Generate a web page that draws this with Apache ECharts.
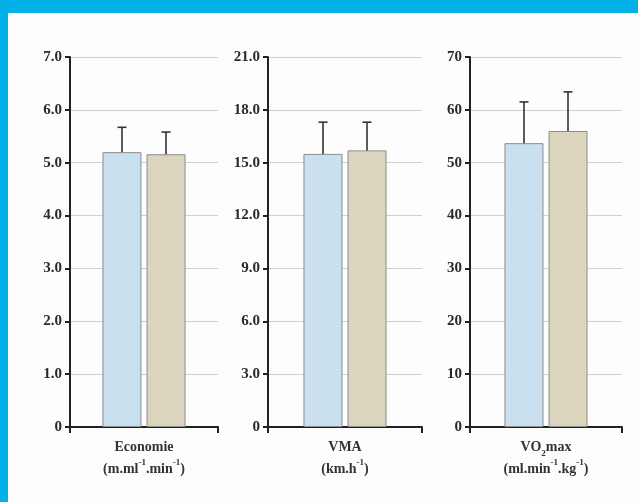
<!DOCTYPE html>
<html>
<head>
<meta charset="utf-8">
<script src="https://cdn.jsdelivr.net/npm/echarts@6/dist/echarts.min.js"></script>
<style>
html,body{margin:0;padding:0;background:#00b0e6;width:638px;height:502px;overflow:hidden;}
#c{position:absolute;left:8px;top:13px;width:630px;height:489px;background:#fdfdfd;}
</style>
</head>
<body>
<div id="c"></div>
<script>
// ---- data ----
var categories = ['Economie', 'VMA', 'VO2max'];
var unitLabels = ['(m.ml-1.min-1)', '(km.h-1)', '(ml.min-1.kg-1)'];
var group1Means = [5.2, 15.5, 53.7];
var group1SD = [0.47, 1.8, 7.8];
var group2Means = [5.16, 15.7, 56.0];
var group2SD = [0.42, 1.6, 7.4];
var axisMax = [7, 21, 70];
var axisStep = [1, 3, 10];
var axisDecimals = [1, 1, 0];

// ---- layout/style ----
var gridLeft = [62, 260, 462];
var gridWidth = [148, 154, 152];
var gridTop = 44, gridHeight = 370;
var FONT = '"Liberation Serif", "DejaVu Serif", serif';
var colBlue = '#c8e0ef', colTan = '#dbd5be', colBorder = '#8c8c8c';
var BAR_W = 39, BAR_OFF = 22;

var labelRich = {
  a: {fontFamily: FONT, fontSize: 14, fontWeight: 'bold', color: '#333', lineHeight: 22},
  sup: {fontFamily: FONT, fontSize: 9, fontWeight: 'bold', color: '#333', verticalAlign: 'top', lineHeight: 16},
  sub: {fontFamily: FONT, fontSize: 9, fontWeight: 'bold', color: '#333', verticalAlign: 'bottom', lineHeight: 14}
};
function richLabel(name, unit) {
  var first = name === 'VO2max' ? '{a|VO}{sub|2}{a|max}' : '{a|' + name + '}';
  var u = unit.replace(/-1/g, '}{sup|-1}{a|');
  return first + '\n{a|' + u + '}';
}

var grids = [], xAxes = [], yAxes = [], series = [];
for (var i = 0; i < 3; i++) {
  grids.push({left: gridLeft[i], width: gridWidth[i], top: gridTop, height: gridHeight});
  xAxes.push({
    type: 'category', gridIndex: i, data: [categories[i]],
    axisLine: {lineStyle: {color: '#222', width: 2}},
    axisTick: {show: true, length: 6, lineStyle: {color: '#222', width: 2}},
    axisLabel: {
      margin: 9, interval: 0,
      formatter: (function (k) { return function () { return richLabel(categories[k], unitLabels[k]); }; })(i),
      rich: labelRich
    }
  });
  yAxes.push({
    type: 'value', gridIndex: i, min: 0, max: axisMax[i], interval: axisStep[i],
    axisLine: {show: true, lineStyle: {color: '#222', width: 2}},
    axisTick: {show: true, length: 5, lineStyle: {color: '#222', width: 2}},
    splitLine: {show: true, lineStyle: {color: '#cfcfcf', width: 1}},
    axisLabel: {
      margin: 8, fontFamily: FONT, fontSize: 15, fontWeight: 'bold', color: '#2a2a2a',
      formatter: (function (d) { return function (v) { return v === 0 ? '0' : v.toFixed(d); }; })(axisDecimals[i])
    }
  });
  series.push({
    type: 'bar', xAxisIndex: i, yAxisIndex: i, data: [group1Means[i]],
    barWidth: BAR_W, barGap: '13%',
    itemStyle: {color: colBlue, borderColor: colBorder, borderWidth: 1}
  });
  series.push({
    type: 'bar', xAxisIndex: i, yAxisIndex: i, data: [group2Means[i]],
    barWidth: BAR_W, barGap: '13%',
    itemStyle: {color: colTan, borderColor: colBorder, borderWidth: 1}
  });
  series.push({
    type: 'custom', xAxisIndex: i, yAxisIndex: i, z: 10,
    data: [[0, group1Means[i], group1SD[i], -1], [0, group2Means[i], group2SD[i], 1]],
    encode: {x: 0, y: 1},
    renderItem: function (params, api) {
      var p = api.coord([api.value(0), api.value(1)]);
      var q = api.coord([api.value(0), api.value(1) + api.value(2)]);
      var x = p[0] + api.value(3) * BAR_OFF;
      var st = {stroke: '#333', lineWidth: 1.6};
      return {type: 'group', children: [
        {type: 'line', shape: {x1: x, y1: p[1], x2: x, y2: q[1]}, style: st},
        {type: 'line', shape: {x1: x - 4.5, y1: q[1], x2: x + 4.5, y2: q[1]}, style: st}
      ]};
    }
  });
}

var chart = echarts.init(document.getElementById('c'), null, {renderer: 'canvas'});
chart.setOption({
  animation: false,
  backgroundColor: '#fdfdfd',
  grid: grids, xAxis: xAxes, yAxis: yAxes, series: series
});
</script>
</body>
</html>
